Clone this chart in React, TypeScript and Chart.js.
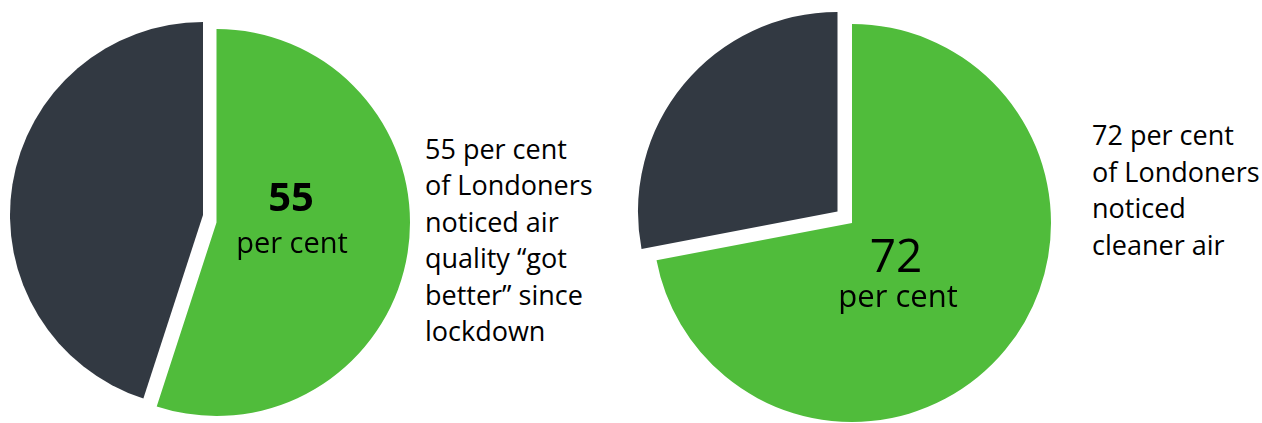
import React, { useEffect, useRef } from "react";
import { Chart, registerables } from "chart.js";

Chart.register(...registerables);

// ---- Data ----
const categories = ["Noticed improvement", "Other"];
const leftValues = [55, 45];
const rightValues = [72, 28];
const sliceColors = ["#50BC3B", "#323942"];
const leftCentreNumber = "55";
const rightCentreNumber = "72";
const centreUnit = "per cent";
const leftCaption = ["55 per cent", "of Londoners", "noticed air", "quality \u201cgot", "better\u201d since", "lockdown"];
const rightCaption = ["72 per cent", "of Londoners", "noticed", "cleaner air"];

const FONT = "'Open Sans', 'Noto Sans', sans-serif";

type SliceProps = {
  values: number[];
  show: number; // index of the slice drawn by this chart (exploded pie: one chart per slice)
  cx: number;
  cy: number;
  radius: number;
};

// One exploded slice: the pie is drawn by Chart.js with the other slice transparent,
// so each slice can sit at its own (shifted) centre.
function PieSlice({ values, show, cx, cy, radius }: SliceProps) {
  const ref = useRef<HTMLCanvasElement | null>(null);
  const size = Math.ceil(radius * 2 + 20);
  useEffect(() => {
    if (!ref.current) return;
    const chart = new Chart(ref.current, {
      type: "pie",
      data: {
        labels: categories,
        datasets: [
          {
            data: values,
            backgroundColor: sliceColors.map((c, i) => (i === show ? c : "rgba(0,0,0,0)")),
            borderWidth: 0,
            hoverOffset: 0,
          },
        ],
      },
      options: {
        responsive: false,
        animation: false,
        events: [],
        radius: radius,
        layout: { padding: 0 },
        plugins: {
          legend: { display: false },
          tooltip: { enabled: false },
        },
      } as any,
    });
    return () => chart.destroy();
  }, []);
  return (
    <div style={{ position: "absolute", left: cx - size / 2, top: cy - size / 2, width: size, height: size }}>
      <canvas ref={ref} width={size} height={size} style={{ width: size, height: size, display: "block" }} />
    </div>
  );
}

function Label({ x, baseline, size, weight, text }: { x: number; baseline: number; size: number; weight: number; text: string }) {
  return (
    <div
      style={{
        position: "absolute",
        left: x,
        top: baseline - 0.888 * size,
        transform: "translateX(-50%)",
        fontFamily: FONT,
        fontSize: size,
        fontWeight: weight,
        lineHeight: 1,
        color: "#000",
        whiteSpace: "nowrap",
      }}
    >
      {text}
    </div>
  );
}

function Caption({ x, top, lines }: { x: number; top: number; lines: string[] }) {
  return (
    <div
      style={{
        position: "absolute",
        left: x,
        top,
        fontFamily: FONT,
        fontSize: 27,
        lineHeight: "36.6px",
        color: "#000",
        whiteSpace: "nowrap",
      }}
    >
      {lines.map((l, i) => (
        <div key={i}>{l}</div>
      ))}
    </div>
  );
}

export default function App() {
  return (
    <div
      style={{
        position: "absolute",
        left: 0,
        top: 0,
        width: 1262,
        height: 423,
        overflow: "hidden",
        background: "#fff",
      }}
    >
      <PieSlice values={leftValues} show={1} cx={202.5} cy={215} radius={193} />
      <PieSlice values={leftValues} show={0} cx={216.8} cy={222.5} radius={193.5} />
      <PieSlice values={rightValues} show={1} cx={837.8} cy={211.7} radius={199.5} />
      <PieSlice values={rightValues} show={0} cx={852} cy={223} radius={199} />
      <Label x={291} baseline={212} size={40} weight={700} text={leftCentreNumber} />
      <Label x={292} baseline={253} size={29} weight={400} text={centreUnit} />
      <Label x={896} baseline={272} size={46} weight={400} text={rightCentreNumber} />
      <Label x={898} baseline={308} size={31} weight={400} text={centreUnit} />
      <Caption x={425} top={130.5} lines={leftCaption} />
      <Caption x={1092} top={117.2} lines={rightCaption} />
    </div>
  );
}
